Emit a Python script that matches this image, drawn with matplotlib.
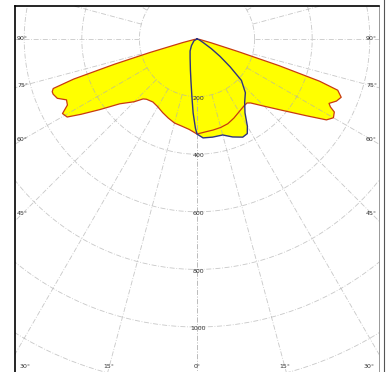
import numpy as np
import matplotlib
matplotlib.use("Agg")
import matplotlib.pyplot as plt
from matplotlib.lines import Line2D

# C0 / C180 plane (yellow with red outline), gamma in degrees, cd/klm
c0_gamma = [0, 5, 10, 15, 20, 25, 30, 35, 38, 40, 45, 50, 55, 58, 60, 62, 63, 64, 66, 68, 70, 71, 72, 73, 75, 80, 90]
c0_cd = [330, 324, 321, 318, 313, 303, 292, 284, 282, 290, 330, 385, 465, 530, 547, 540, 520, 510, 530, 540, 520, 450, 300, 150, 50, 10, 0]
c180_gamma = [0, 5, 10, 15, 20, 25, 30, 35, 40, 42, 45, 50, 54, 57, 59, 61, 63, 65, 67, 69, 70, 71, 72, 73, 74, 76, 80, 90]
c180_cd = [330, 315, 307, 302, 292, 282, 272, 267, 273, 280, 308, 350, 417, 480, 526, 534, 505, 500, 527, 535, 535, 528, 450, 300, 170, 50, 10, 0]

# C90 / C270 plane (blue outline)
c90_gamma = [0, 3.5, 9, 15, 20, 25, 28, 30, 33, 37, 42, 47, 50, 53, 56, 60, 70, 90]
c90_cd = [330, 344, 345, 345, 362, 376, 372, 350, 306, 275, 251, 211, 150, 100, 60, 25, 8, 0]
c270_gamma = [0, 1, 3, 5, 8, 12, 20, 30, 40, 60, 90]
c270_cd = [330, 310, 257, 202, 150, 110, 70, 48, 30, 12, 0]

rings = [200, 400, 600, 800, 1000, 1200]
ring_labels = ["200", "400", "600", "800", "1000"]
angle_ticks = [0, 15, 30, 45, 60, 75, 90]


def to_xy(gamma, cd, side):
    g = np.radians(gamma)
    r = np.array(cd, dtype=float)
    return side * r * np.sin(g), -r * np.cos(g)


fig = plt.figure(figsize=(3.9, 3.72), dpi=100)
ax = fig.add_axes([15 / 390, -2 / 372, 364 / 390, 368 / 372])
scale = 0.288  # px per cd/klm
xmin, xmax = -182 / scale, 182 / scale
ymax, ymin = 33 / scale, -335 / scale
ax.set_xlim(xmin, xmax)
ax.set_ylim(ymin, ymax)
ax.set_xticks([])
ax.set_yticks([])
for s in ax.spines.values():
    s.set_color("black")
    s.set_linewidth(1.2)
ax.spines["right"].set_color("#888888")
ax.spines["right"].set_linewidth(0.6)

# outer frame line on the right
fig.add_artist(Line2D([384 / 390, 384 / 390], [0, 1], color="#555555", lw=0.8))

# curves
xl, yl = to_xy(c180_gamma[::-1], c180_cd[::-1], -1)
xr, yr = to_xy(c0_gamma, c0_cd, 1)
red_x = np.concatenate([xl, xr])
red_y = np.concatenate([yl, yr])
xl, yl = to_xy(c270_gamma[::-1], c270_cd[::-1], -1)
xr, yr = to_xy(c90_gamma, c90_cd, 1)
blue_x = np.concatenate([xl, xr])
blue_y = np.concatenate([yl, yr])

ax.fill(red_x, red_y, color="#ffff00", zorder=1, lw=0)
ax.fill(blue_x, blue_y, color="#ffff00", zorder=1, lw=0)

# grid
grid_kw = dict(color="#b0b0b0", lw=0.6, ls=(0, (6, 2, 1, 2)), alpha=0.7, zorder=2)
t = np.linspace(0, 2 * np.pi, 721)
for r in rings:
    ax.plot(r * np.cos(t), r * np.sin(t), **grid_kw)
for a in range(0, 181, 15):
    for side in (-1, 1):
        g = np.radians(a)
        ax.plot([side * 200 * np.sin(g), side * 3000 * np.sin(g)],
                [-200 * np.cos(g), -3000 * np.cos(g)], **grid_kw)

ax.plot(red_x, red_y, color="#c83a10", lw=0.9, zorder=3)
ax.plot(blue_x, blue_y, color="#2e3380", lw=1.0, zorder=4)

# radial labels
for r, lab in zip(rings, ring_labels):
    ax.text(5, -r - 6, lab, fontsize=4.5, ha="center", va="center",
            color="#333333", zorder=5)

# angle labels at the frame
inset = 26
for a in angle_ticks:
    g = np.radians(a)
    for side in (-1, 1):
        if a == 0 and side == -1:
            continue
        dx, dy = side * np.sin(g), -np.cos(g)
        if a <= 30:
            # along the bottom edge, kept inside the frame
            k = (ymin + inset) / dy
            px = np.clip(k * dx, xmin + 1.4 * inset, xmax - 1.4 * inset)
            py = k * dy
        else:
            k = (xmax - inset) / abs(dx)
            px, py = k * dx, k * dy
        ax.text(px, py, f"{a}°", fontsize=4.5, ha="center", va="center",
                color="#333333", zorder=5)

fig.savefig("out.png", dpi=100)
